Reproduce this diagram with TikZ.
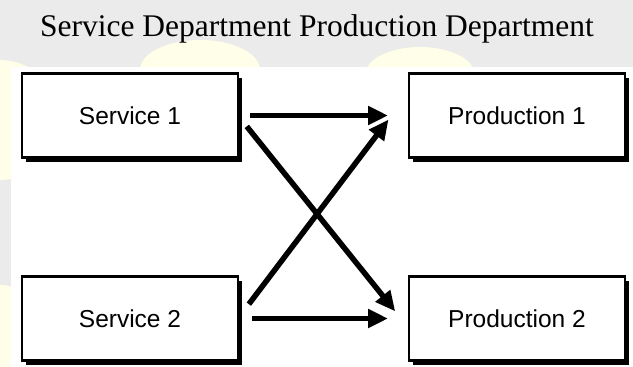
\documentclass[tikz,border=0pt]{standalone}
\usepackage{fontspec}
\setmainfont{Liberation Serif}
\setsansfont{Liberation Sans}
\usepackage{tikz}
\usetikzlibrary{arrows.meta,positioning,shadows}

\begin{document}
\begin{tikzpicture}[x=1pt,y=-1pt,node distance=119pt and 171pt,
	dept/.style={draw,line width=2.7pt,fill=white,outer sep=0pt,
		minimum width=216pt,minimum height=84pt,
		font=\sffamily\fontsize{24.5}{28}\selectfont,
		drop shadow={shadow xshift=4pt,shadow yshift=-4pt,fill=black,opacity=1}},
	flow/.style={line width=5.5pt,-{Triangle[length=20pt,width=18pt]}}]
	
	% page and watermark
	\useasboundingbox (0,0) rectangle (633,367);
	\fill[black!8] (0,0) rectangle (633,67);
	\fill[black!8] (0,67) rectangle (11,367);
	\begin{scope}
		\clip (0,0) rectangle (633,67) (0,67) rectangle (11,367);
		\fill[yellow!9] (0,120) circle (60pt);
		\fill[yellow!9] (200,70) ellipse (60pt and 30pt);
		\fill[yellow!9] (420,75) ellipse (55pt and 28pt);
		\fill[yellow!9] (0,330) circle (45pt);
	\end{scope}
	\fill[white] (11,67) rectangle (633,367);
	
	\node[font=\fontsize{31.5}{36}\selectfont] (title) at (317,29)
		{Service Department Production Department};
	
	\node[dept] (s1) at (130,115.5) {Service 1};
	\node[dept] (p1) [right=of s1] {Production 1};
	\node[dept] (s2) [below=of s1] {Service 2};
	\node[dept] (p2) [right=of s2] {Production 2};
	
	\path[flow] (s1) edge[shorten <=12pt,shorten >=21pt] (p1)
	                 (s1.east) edge[shorten <=14pt,shorten >=22pt] ([yshift=-10pt]p2.west)
	            (s2) edge[shorten <=14pt,shorten >=21pt] (p2)
	                 (s2.east) edge[shorten <=18pt,shorten >=34pt] ([yshift=23pt]p1.west);
\end{tikzpicture}
\end{document}
